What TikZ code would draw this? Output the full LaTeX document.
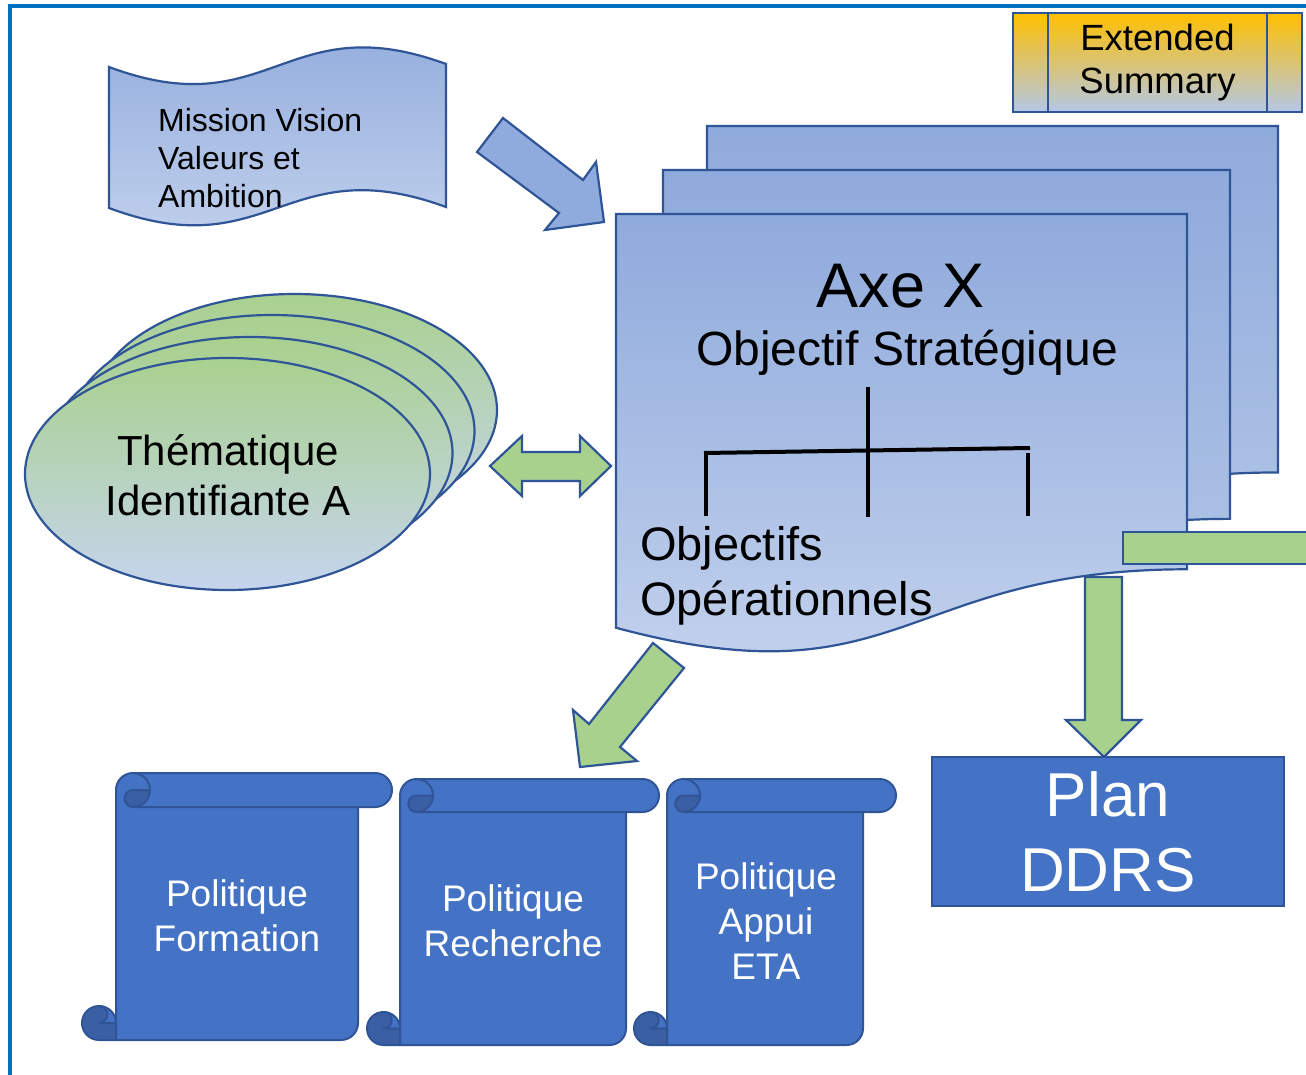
\documentclass[tikz,border=0pt]{standalone}
\usepackage{fontspec}
\setmainfont{Liberation Sans}
\definecolor{edgeblue}{HTML}{2F5597}
\definecolor{mainblue}{HTML}{4472C4}
\definecolor{rolldark}{HTML}{3A5FA3}
\definecolor{paleblue}{HTML}{8FAADC}
\definecolor{softblue}{HTML}{B4C7E7}
\definecolor{lightblue}{HTML}{C6D4EE}
\definecolor{leafgreen}{HTML}{A9D18E}
\definecolor{sage}{HTML}{A9C5B8}
\definecolor{frameblue}{HTML}{0070C0}
\definecolor{amber}{HTML}{FFC000}
\definecolor{sandgrey}{HTML}{C4BEA4}
\newcommand\setfs[2]{\fontsize{#1}{#2}\selectfont}

\tikzset{
  outl/.style={draw=edgeblue, line width=2.2pt, line join=miter},
  scrolledge/.style={draw=edgeblue, line width=2pt, line join=round},
  greenarrow/.style={outl, fill=leafgreen},
  bluearrow/.style={outl, fill=paleblue},
  docsheet/.style={outl, top color=paleblue, bottom color=#1},
  thema/.style={outl, top color=leafgreen, middle color=sage, bottom color=lightblue},
  txt/.style={inner sep=0pt, text=black},
  wtxt/.style={inner sep=0pt, text=white},
}

% document sheet with a wavy lower edge: left, top, right, height, style
\newcommand\drawdoc[5]{%
  \pgfmathsetmacro\dcM{(#1+#3)/2}%
  \draw[#5] (#1,#2) -- (#3,#2) -- (#3,{#2+0.802*#4})
     .. controls (\dcM,{#2+0.802*#4}) and (\dcM,{#2+1.107*#4}) .. (#1,{#2+0.934*#4}) -- cycle;
}

% vertical scroll: left, top, right, bottom, roll thickness
\newcommand\drawscroll[5]{%
  \pgfmathsetmacro\scL{#1}\pgfmathsetmacro\scT{#2}%
  \pgfmathsetmacro\scR{#3}\pgfmathsetmacro\scB{#4}%
  \pgfmathsetmacro\scC{#5}\pgfmathsetmacro\scH{#5/2}\pgfmathsetmacro\scQ{#5/4}%
  % sheet
  \draw[scrolledge, fill=mainblue] ({\scL+\scC},{\scT+\scH}) -- ({\scL+\scC},\scB)
     -- ({\scR-\scC-\scH},\scB) arc[start angle=90, end angle=0, radius=\scH]
     -- ({\scR-\scC},{\scT+\scH}) -- cycle;
  % lower roll
  \draw[scrolledge, fill=mainblue] ({\scL+\scH},{\scB-\scC}) arc[start angle=-90, end angle=0, radius=\scH]
     -- ({\scL+\scH},{\scB-\scH}) -- cycle;
  \draw[scrolledge, fill=rolldark] ({\scL+\scC},{\scB-\scH}) -- ({\scL+\scH},{\scB-\scH})
     arc[start angle=90, end angle=-90, radius=\scQ]
     arc[start angle=-90, end angle=-270, radius=\scH]
     -- ({\scL+\scC},\scB) -- cycle;
  % upper roll
  \fill[mainblue] ({\scL+\scC},{\scT+\scH}) arc[start angle=180, end angle=270, radius=\scH]
     -- ({\scR-\scH},\scT) arc[start angle=-90, end angle=90, radius=\scH]
     -- ({\scL+\scC},{\scT+\scC}) -- cycle;
  \draw[scrolledge] ({\scL+\scC},{\scT+\scC}) -- ({\scL+\scC},{\scT+\scH})
     arc[start angle=180, end angle=270, radius=\scH]
     -- ({\scR-\scH},\scT) arc[start angle=-90, end angle=90, radius=\scH]
     -- ({\scL+\scC+\scH},{\scT+\scC});
  % upper curl
  \draw[scrolledge, fill=rolldark] ({\scL+\scC+\scH},{\scT+\scH}) -- ({\scL+2*\scC},{\scT+\scH})
     arc[start angle=0, end angle=90, radius=\scH]
     arc[start angle=90, end angle=270, radius=\scQ] -- cycle;
  \draw[scrolledge] ({\scL+\scC+\scH},\scT) arc[start angle=-90, end angle=0, radius=\scH];
}

\begin{document}
\begin{tikzpicture}[x=1pt,y=-1pt]
\useasboundingbox (0,0) rectangle (1306,1075);
\fill[white] (0,0) rectangle (1306,1075);

% outer frame
\draw[frameblue, line width=4pt] (10,1085) -- (10,6) -- (1315,6);

% mission banner
\draw[outl, top color=paleblue, bottom color=lightblue]
  (109,67) .. controls (270,127) and (285,5) .. (446,64)
  -- (446,207) .. controls (285,148) and (270,268) .. (109,208) -- cycle;
\node[txt, font=\setfs{32}{38}, align=left, anchor=west] (mission) at (158,158.5)
  {Mission Vision\\Valeurs et\\Ambition};

% arrow towards the axis sheets
\draw[bluearrow] (503,118) -- (583,180) -- (596,162) -- (604,222) -- (545,230)
  -- (559,213) -- (477,152) -- cycle;

% stacked axis sheets
\drawdoc{707}{126}{1278}{432}{docsheet=softblue}
\drawdoc{663}{170}{1230}{435}{docsheet=softblue}
\drawdoc{616}{214}{1187}{443}{docsheet=lightblue}

\node[txt, font=\setfs{63}{70}, anchor=base] (axe) at (901,308) {Axe X};
\node[txt, font=\setfs{48}{54}, anchor=base] (strat) at (907,365) {Objectif Stratégique};
\node[txt, font=\setfs{47}{55}, align=left, anchor=west] (ops) at (640,575.5)
  {Objectifs\\Opérationnels};

% objectives tree
\draw[black, line width=4pt] (868,387) -- (868,517);
\draw[black, line width=4pt] (704,453) -- (1030,448);
\draw[black, line width=4pt] (706,453) -- (706,516);
\draw[black, line width=4pt] (1028,453) -- (1028,516);

% side bar and arrow down to the plan
\draw[outl, fill=leafgreen] (1123,532) rectangle (1315,564);
\draw[greenarrow] (1085,577) -- (1122,577) -- (1122,720) -- (1141,720) -- (1104,757)
  -- (1066,720) -- (1085,720) -- cycle;
\node[outl, fill=mainblue, minimum width=352pt, minimum height=149pt, inner sep=0pt,
  text=white, font=\setfs{62}{75}, align=center] (plan) at (1108,831.5) {Plan\\DDRS};

% thematic ellipses
\draw[thema] (294.5,410) ellipse[x radius=202.5, y radius=116];
\draw[thema] (272,431) ellipse[x radius=202.5, y radius=116];
\draw[thema] (250,453) ellipse[x radius=202.5, y radius=116];
\draw[thema] (227.5,474) ellipse[x radius=202.5, y radius=116];
\node[txt, font=\setfs{42}{50}, align=center] (them) at (228,475.5)
  {Thématique\\Identifiante A};

% two-way arrow
\draw[greenarrow] (490,466) -- (522,436) -- (522,452) -- (580,452) -- (580,436)
  -- (611,466) -- (580,496) -- (580,481) -- (522,481) -- (522,496) -- cycle;

% arrow down to the policies
\draw[greenarrow] (653,643) -- (684,668) -- (620,747) -- (637,761) -- (580,767)
  -- (573,710) -- (589,724) -- cycle;

% policy scrolls
\drawscroll{82}{773}{392}{1040}{34}
\drawscroll{367}{779}{659}{1045}{33}
\drawscroll{634}{779}{896}{1045}{33}
\node[wtxt, font=\setfs{37}{45}, align=center] (formation) at (237,916) {Politique\\Formation};
\node[wtxt, font=\setfs{37}{45}, align=center] (recherche) at (513,921) {Politique\\Recherche};
\node[wtxt, font=\setfs{37}{45}, align=center] (appui) at (766,921) {Politique\\Appui\\ETA};

% summary tab
\node[outl, top color=amber, middle color=sandgrey, bottom color=softblue,
  minimum width=289pt, minimum height=99pt, inner sep=0pt, text=black,
  font=\setfs{36.5}{43}, align=center] (summary) at (1157.5,62.5) {Extended\\Summary};
\draw[outl] ([xshift=36pt]summary.north west) -- ([xshift=36pt]summary.south west);
\draw[outl] ([xshift=-36pt]summary.north east) -- ([xshift=-36pt]summary.south east);
\end{tikzpicture}
\end{document}
